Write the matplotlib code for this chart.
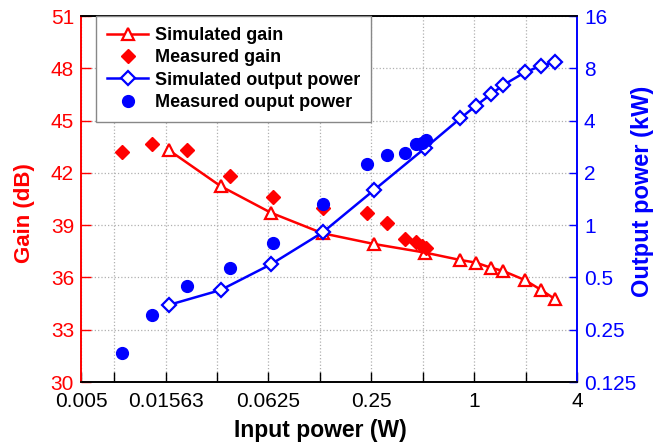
import matplotlib
matplotlib.use('Agg')
from matplotlib import pyplot as plt
from matplotlib.ticker import FixedLocator, NullFormatter

plt.rcParams['font.family'] = ['Liberation Sans', 'DejaVu Sans']

# simulated curves (input power in W)
sim_x = [0.0163, 0.0328, 0.0647, 0.130, 0.259, 0.519, 0.830, 1.025, 1.25, 1.48, 1.98, 2.47, 2.99]
sim_gain = [43.31, 41.24, 39.71, 38.53, 37.92, 37.42, 37.0, 36.85, 36.56, 36.37, 35.85, 35.28, 34.74]
sim_power = [0.347, 0.423, 0.595, 0.909, 1.59, 2.79, 4.12, 4.87, 5.66, 6.40, 7.58, 8.28, 8.65]

# measured points
meas_x = [0.00871, 0.0131, 0.0208, 0.0372, 0.0665, 0.130, 0.235, 0.309, 0.395, 0.458, 0.497, 0.524]
meas_gain = [43.21, 43.65, 43.31, 41.82, 40.63, 39.96, 39.68, 39.10, 38.19, 38.01, 37.82, 37.67]
meas_power = [0.184, 0.304, 0.448, 0.564, 0.786, 1.32, 2.24, 2.53, 2.61, 2.92, 2.98, 3.09]

x_ticks = [0.005, 0.015625, 0.0625, 0.25, 1, 4]
x_labels = ['0.005', '0.01563', '0.0625', '0.25', '1', '4']
x_minor = [2**-7, 2**-5, 2**-3, 2**-1, 2]
gain_ticks = [30, 33, 36, 39, 42, 45, 48, 51]
power_ticks = [0.125, 0.25, 0.5, 1, 2, 4, 8, 16]
power_labels = ['0.125', '0.25', '0.5', '1', '2', '4', '8', '16']

fig = plt.figure(figsize=(6.64, 4.47), dpi=100)
ax = fig.add_axes([81/664, 1-382/447, 496/664, 366/447])
ax2 = ax.twinx()

l1, = ax.plot(sim_x, sim_gain, '-', color='red', lw=1.8, marker='^', ms=9,
              mfc='white', mec='red', mew=1.6, label='Simulated gain')
l2, = ax.plot(meas_x, meas_gain, 'D', color='red', ms=7, label='Measured gain', ls='none')
l3, = ax2.plot(sim_x, sim_power, '-', color='blue', lw=1.8, marker='D', ms=7.5,
               mfc='white', mec='blue', mew=1.6, label='Simulated output power')
l4, = ax2.plot(meas_x, meas_power, 'o', color='blue', ms=8.5, label='Measured ouput power', ls='none')

ax.set_xscale('log', base=2)
ax.set_xlim(0.005, 4)
ax.xaxis.set_major_locator(FixedLocator(x_ticks))
ax.set_xticklabels(x_labels)
ax.xaxis.set_minor_locator(FixedLocator(x_minor))
ax.xaxis.set_minor_formatter(NullFormatter())

ax.set_ylim(30, 51)
ax.set_yticks(gain_ticks)
ax2.set_yscale('log', base=2)
ax2.set_ylim(0.125, 16)
ax2.yaxis.set_major_locator(FixedLocator(power_ticks))
ax2.set_yticklabels(power_labels)
ax2.yaxis.set_minor_locator(FixedLocator([]))

ax.grid(which='both', axis='x', ls=':', color='#b0b0b0', lw=0.9)
ax.grid(which='major', axis='y', ls=':', color='#b0b0b0', lw=0.9)

ax.tick_params(axis='x', which='both', direction='in', length=7, width=1, labelsize=15, top=False, pad=7)
ax.tick_params(axis='y', direction='in', length=7, width=1, labelsize=15, colors='red', pad=5)
ax2.tick_params(axis='y', direction='in', length=6, width=1, labelsize=15, colors='blue', pad=5)

ax.spines['left'].set_color('red')
ax2.spines['left'].set_color('red')
ax2.spines['right'].set_color('blue')
ax.spines['right'].set_color('blue')
for a in (ax, ax2):
    for s in a.spines.values():
        s.set_linewidth(1.2)

ax.set_xlabel('Input power (W)', fontsize=16.5, fontweight='bold')
ax.set_ylabel('Gain (dB)', fontsize=16, fontweight='bold', color='red')
ax2.set_ylabel('Output power (kW)', fontsize=17, fontweight='bold', color='blue')
ax.xaxis.set_label_coords(0.482, -0.102)
ax.yaxis.set_label_coords(-0.092, 0.462)
ax2.yaxis.set_label_coords(1.108, 0.522)

leg = ax2.legend(handles=[l1, l2, l3, l4], loc='upper left', bbox_to_anchor=(15/496, 1.0),
                 borderaxespad=0, fancybox=False, framealpha=1, edgecolor='#888888',
                 prop={'size': 13, 'weight': 'bold'}, handlelength=2.3, labelspacing=0.3,
                 borderpad=0.6, handletextpad=0.35)
leg.get_frame().set_linewidth(1.0)

plt.savefig('out.png', dpi=100)
